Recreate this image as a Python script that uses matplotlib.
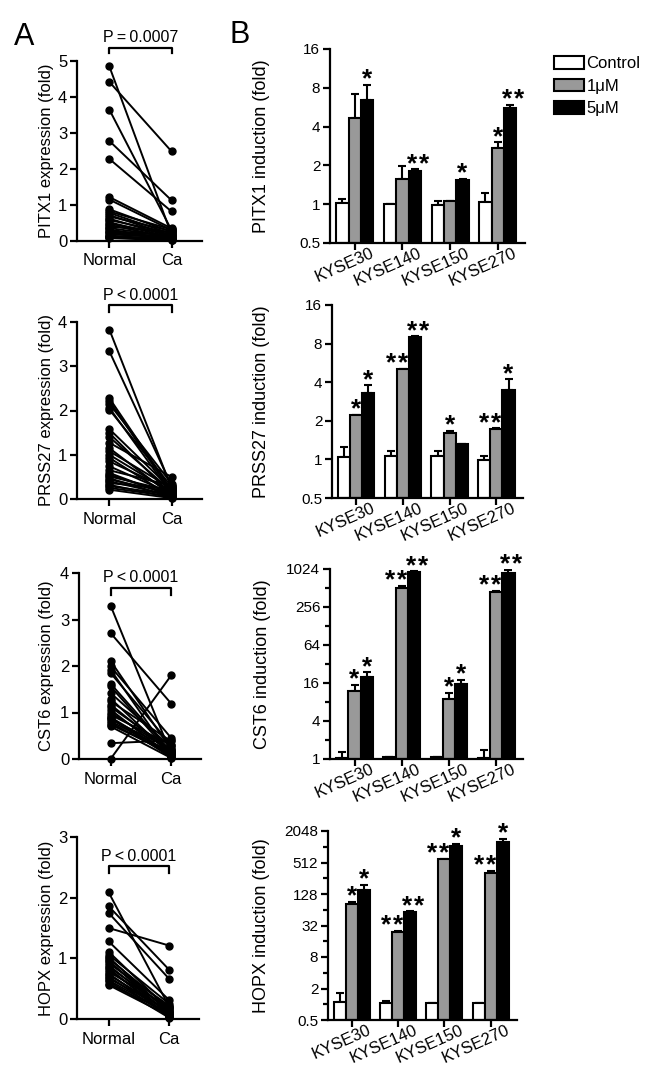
import matplotlib
matplotlib.use("Agg")
import numpy as np
import matplotlib.pyplot as plt
from matplotlib.patches import Patch
from matplotlib.ticker import FixedLocator, NullFormatter

# =============================================================
# DATA
# =============================================================
GROUPS = ["Normal", "Ca"]
CELL_LINES = ["KYSE30", "KYSE140", "KYSE150", "KYSE270"]
TREATMENTS = ["Control", "1\u03bcM", "5\u03bcM"]

# panel A: paired expression (Normal -> Ca)
pitx1_normal = [4.85, 4.42, 3.65, 2.78, 2.28, 1.22, 1.15, 0.88, 0.82, 0.78, 0.72, 0.68, 0.62, 0.58,
                0.52, 0.48, 0.45, 0.40, 0.36, 0.32, 0.28, 0.25, 0.22, 0.18, 0.15, 0.12, 0.10, 0.08]
pitx1_ca = [0.18, 2.49, 0.30, 1.13, 0.82, 0.35, 0.30, 0.25, 0.32, 0.20, 0.15, 0.28, 0.12, 0.22,
            0.10, 0.18, 0.08, 0.25, 0.12, 0.05, 0.15, 0.10, 0.06, 0.12, 0.04, 0.08, 0.03, 0.02]

prss27_normal = [3.83, 3.34, 2.28, 2.22, 2.15, 2.06, 2.02, 1.58, 1.49, 1.40, 1.27, 1.15, 1.08, 1.00, 0.93,
                 0.85, 0.74, 0.65, 0.59, 0.55, 0.51, 0.47, 0.44, 0.40, 0.36, 0.32, 0.29, 0.25, 0.21]
prss27_ca = [0.25, 0.30, 0.20, 0.15, 0.35, 0.12, 0.28, 0.22, 0.10, 0.18, 0.50, 0.08, 0.24, 0.15, 0.05,
             0.20, 0.12, 0.30, 0.06, 0.10, 0.18, 0.04, 0.14, 0.08, 0.22, 0.03, 0.10, 0.06, 0.02]

cst6_normal = [3.30, 2.71, 2.11, 1.99, 1.92, 1.85, 1.62, 1.56, 1.42, 1.30, 1.24, 1.17, 1.12, 1.06,
               1.00, 0.95, 0.90, 0.88, 0.85, 0.81, 0.78, 0.74, 0.70, 0.34, 0.00]
cst6_ca = [0.10, 1.19, 0.20, 0.45, 0.05, 0.30, 0.15, 0.10, 0.25, 0.08, 0.38, 0.12, 0.20, 0.05,
           0.18, 0.30, 0.10, 0.03, 0.22, 0.15, 0.08, 0.12, 0.02, 0.40, 1.80]

hopx_normal = [2.09, 1.86, 1.75, 1.50, 1.28, 1.11, 1.06, 1.02, 1.00, 0.97, 0.95, 0.92, 0.89,
               0.86, 0.84, 0.81, 0.78, 0.75, 0.73, 0.70, 0.67, 0.64, 0.62, 0.58, 0.56]
hopx_ca = [0.20, 0.81, 0.66, 1.21, 0.31, 0.15, 0.25, 0.10, 0.18, 0.05, 0.12, 0.22, 0.08,
           0.16, 0.03, 0.10, 0.20, 0.06, 0.12, 0.04, 0.14, 0.08, 0.02, 0.10, 0.05]

P_LABELS = ["P\u2009=\u20090.0007", "P\u2009<\u20090.0001", "P\u2009<\u20090.0001", "P\u2009<\u20090.0001"]

# panel B: fold induction per cell line (mean, upper error)
pitx1_ctrl, pitx1_ctrl_err = [1.02, 1.00, 0.99, 1.04], [0.08, 0.0, 0.06, 0.19]
pitx1_1um, pitx1_1um_err = [4.70, 1.58, 1.05, 2.75], [2.5, 0.41, 0.01, 0.27]
pitx1_5um, pitx1_5um_err = [6.45, 1.82, 1.54, 5.62], [2.0, 0.05, 0.04, 0.28]
pitx1_stars_1um = ["", "", "", "*"]
pitx1_stars_5um = ["*", "**", "*", "**"]

prss27_ctrl, prss27_ctrl_err = [1.04, 1.06, 1.06, 0.99], [0.21, 0.11, 0.11, 0.08]
prss27_1um, prss27_1um_err = [2.20, 5.08, 1.60, 1.73], [0.03, 0.03, 0.08, 0.02]
prss27_5um, prss27_5um_err = [3.28, 9.07, 1.32, 3.48], [0.49, 0.05, 0.0, 0.74]
prss27_stars_1um = ["*", "**", "*", "**"]
prss27_stars_5um = ["*", "**", "", "*"]

cst6_ctrl, cst6_ctrl_err = [1.02, 1.06, 1.06, 1.02], [0.25, 0.0, 0.0, 0.36]
cst6_1um, cst6_1um_err = [11.8, 512, 8.9, 443], [3.3, 46, 2.2, 21]
cst6_5um, cst6_5um_err = [19.9, 906, 15.6, 885], [3.7, 34, 2.5, 112]
cst6_stars_1um = ["*", "**", "*", "**"]
cst6_stars_5um = ["*", "**", "*", "**"]

hopx_ctrl, hopx_ctrl_err = [1.12, 1.04, 1.04, 1.04], [0.54, 0.11, 0.0, 0.0]
hopx_1um, hopx_1um_err = [80.8, 24.3, 593, 316], [10, 1, 10, 34]
hopx_5um, hopx_5um_err = [156, 58.5, 1050, 1270], [33, 1.5, 130, 200]
hopx_stars_1um = ["*", "**", "**", "**"]
hopx_stars_5um = ["*", "**", "*", "*"]

# =============================================================
# STYLE
# =============================================================
plt.rcParams['font.family'] = ['Liberation Sans', 'DejaVu Sans']
plt.rcParams['font.size'] = 12
plt.rcParams['axes.linewidth'] = 1.6
LW = 1.6
GRAY = "#999999"
STAR_SIZE = 19
STAR_GAP = 8.6                  # points between the two stars of "**"
STAR_SHIFT = {1: -4.3, 2: 2.0}  # sideways nudge for "**" over gray / black bars

W, H = 650, 1086
fig = plt.figure(figsize=(W / 100, H / 100), dpi=100)


def px_axes(left, right, top, bottom):
    return fig.add_axes([left / W, 1 - bottom / H, (right - left) / W, (bottom - top) / H])


def style_axes(ax):
    for s in ("top", "right"):
        ax.spines[s].set_visible(False)
    ax.tick_params(direction="out", length=5, width=LW, labelsize=12, pad=2)
    ax.tick_params(which="minor", direction="out", length=3.5, width=LW)


def paired(ax, normal, ca, ymax, plabel, yb, drop, ylabel, label_x):
    for a, b in zip(normal, ca):
        ax.plot([0, 1], [a, b], "-o", color="black", lw=1.4, ms=5, clip_on=False, zorder=3)
    ax.set_xlim(-0.52, 1.49)
    ax.set_ylim(0, ymax)
    ax.set_yticks(range(ymax + 1))
    ax.set_xticks([0, 1])
    ax.set_xticklabels(GROUPS)
    style_axes(ax)
    ax.tick_params(axis="x", pad=4)
    ax.plot([0, 0, 1, 1], [yb - drop, yb, yb, yb - drop], color="black", lw=LW, clip_on=False)
    ax.annotate(plabel, (0.5, yb), xytext=(0, 4), textcoords="offset points",
                ha="center", va="baseline", fontsize=11.5, annotation_clip=False)
    ax.set_ylabel(ylabel, fontsize=12, va="center")
    ax.yaxis.set_label_coords(label_x, 0.5)


def bars(ax, series, stars_1um, stars_5um, ylim, major, major_labels, minor, ylabel, label_x):
    x = np.arange(len(CELL_LINES))
    w = 0.26
    colors = ["white", GRAY, "black"]
    tops = []
    for k, (vals, errs) in enumerate(series):
        off = (k - 1) * w
        vals = np.array(vals)
        ax.bar(x + off, vals - ylim[0], bottom=ylim[0], width=w, color=colors[k],
               edgecolor="black", linewidth=1.5, zorder=2)
        ax.errorbar(x + off, vals, yerr=[np.zeros(len(vals)), errs], fmt="none", ecolor="black",
                    elinewidth=1.5, capsize=3, capthick=1.5, zorder=1)
        tops.append(vals + np.array(errs))
    for k, stars in ((1, stars_1um), (2, stars_5um)):
        for i, s in enumerate(stars):
            n = len(s)
            shift = STAR_SHIFT[k] if n > 1 else 0
            for j in range(n):
                dx = shift + (j - (n - 1) / 2) * STAR_GAP
                ax.annotate("*", (x[i] + (k - 1) * w, tops[k][i]), xytext=(dx, -1.2),
                            textcoords="offset points", ha="center", va="baseline",
                            fontsize=STAR_SIZE, fontweight="bold", annotation_clip=False)
    ax.set_yscale("log", base=2)
    ax.set_ylim(*ylim)
    ax.set_xlim(-0.52, 3.57)
    ax.yaxis.set_major_locator(FixedLocator(major))
    ax.set_yticklabels(major_labels)
    ax.yaxis.set_minor_locator(FixedLocator(minor))
    ax.yaxis.set_minor_formatter(NullFormatter())
    ax.set_xticks(x)
    ax.set_xticklabels([])
    for i, name in enumerate(CELL_LINES):
        ax.annotate(name, (x[i], 0), xycoords=("data", "axes fraction"), xytext=(11, -2),
                    textcoords="offset points", rotation=24, ha="right", va="top",
                    rotation_mode="anchor", fontsize=12, annotation_clip=False)
    style_axes(ax)
    ax.tick_params(axis="y", labelsize=11)
    ax.set_ylabel(ylabel, fontsize=13, va="center")
    ax.yaxis.set_label_coords(label_x, 0.5)


# =============================================================
# PANEL A
# =============================================================
a_rows = [
    ((77, 202, 61, 241), pitx1_normal, pitx1_ca, 5, 5.36, 0.14, "PITX1 expression (fold)"),
    ((77, 202, 322, 499), prss27_normal, prss27_ca, 4, 4.38, 0.15, "PRSS27 expression (fold)"),
    ((79, 201, 573, 759), cst6_normal, cst6_ca, 4, 3.68, 0.15, "CST6 expression (fold)"),
    ((77, 199, 837, 1019), hopx_normal, hopx_ca, 3, 2.52, 0.11, "HOPX expression (fold)"),
]
for (box, nrm, ca, ymax, yb, drop, ylab), plab in zip(a_rows, P_LABELS):
    ax = px_axes(*box)
    paired(ax, nrm, ca, ymax, plab, yb, drop, ylab, (47 - box[0]) / (box[1] - box[0]))

# =============================================================
# PANEL B
# =============================================================
lin_ticks = [0.5, 1, 2, 4, 8, 16]
lin_labels = ["0.5", "1", "2", "4", "8", "16"]
b_rows = [
    ((330, 525, 49, 243),
     [(pitx1_ctrl, pitx1_ctrl_err), (pitx1_1um, pitx1_1um_err), (pitx1_5um, pitx1_5um_err)],
     pitx1_stars_1um, pitx1_stars_5um, (0.5, 16), lin_ticks, lin_labels, [],
     "PITX1 induction (fold)"),
    ((332, 523, 305, 498),
     [(prss27_ctrl, prss27_ctrl_err), (prss27_1um, prss27_1um_err), (prss27_5um, prss27_5um_err)],
     prss27_stars_1um, prss27_stars_5um, (0.5, 16), lin_ticks, lin_labels, [],
     "PRSS27 induction (fold)"),
    ((330, 523, 569, 759),
     [(cst6_ctrl, cst6_ctrl_err), (cst6_1um, cst6_1um_err), (cst6_5um, cst6_5um_err)],
     cst6_stars_1um, cst6_stars_5um, (1, 1024), [1, 4, 16, 64, 256, 1024],
     ["1", "4", "16", "64", "256", "1024"], [2, 8, 32, 128, 512],
     "CST6 induction (fold)"),
    ((328, 517, 831, 1020),
     [(hopx_ctrl, hopx_ctrl_err), (hopx_1um, hopx_1um_err), (hopx_5um, hopx_5um_err)],
     hopx_stars_1um, hopx_stars_5um, (0.5, 2048), [0.5, 2, 8, 32, 128, 512, 2048],
     ["0.5", "2", "8", "32", "128", "512", "2048"], [1, 4, 16, 64, 256, 1024],
     "HOPX induction (fold)"),
]
for box, series, s1, s5, ylim, major, mlabels, minor, ylab in b_rows:
    ax = px_axes(*box)
    bars(ax, series, s1, s5, ylim, major, mlabels, minor, ylab, (262 - box[0]) / (box[1] - box[0]))

# legend
handles = [Patch(facecolor=c, edgecolor="black", linewidth=1.5, label=t)
           for c, t in zip(["white", GRAY, "black"], TREATMENTS)]
fig.legend(handles=handles, loc="upper left", bbox_to_anchor=(554 / W, 1 - 56 / H),
           frameon=False, fontsize=12, handlelength=1.8, handleheight=0.8,
           handletextpad=0.15, labelspacing=0.45, borderpad=0, borderaxespad=0)

fig.text(14 / W, 1 - 45 / H, "A", fontsize=22, va="baseline")
fig.text(229 / W, 1 - 43 / H, "B", fontsize=22, va="baseline")

plt.savefig("out.png", dpi=100)
